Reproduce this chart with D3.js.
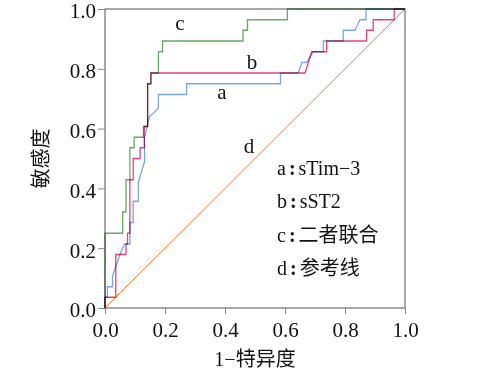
<!DOCTYPE html>
<html>
<head>
<meta charset="utf-8">
<script src="https://cdn.jsdelivr.net/npm/d3@7"></script>
<style>
  body { margin: 0; background: #fff; }
  .curve { fill: none; mix-blend-mode: multiply; }
</style>
</head>
<body>
<div id="chart"></div>
<script>
// ROC curve points: [1-specificity, sensitivity]
const curveA = [[0,0],[0,0.036],[0.008,0.036],[0.008,0.071],[0.025,0.071],[0.025,0.107],[0.04,0.15],[0.05,0.179],[0.065,0.214],[0.083,0.214],
  [0.083,0.286],[0.094,0.286],[0.094,0.357],[0.111,0.357],[0.111,0.42],[0.132,0.49],[0.132,0.571],[0.148,0.64],[0.165,0.655],[0.178,0.67],
  [0.178,0.714],[0.272,0.714],[0.272,0.75],[0.585,0.75],[0.585,0.786],[0.644,0.786],[0.656,0.821],[0.672,0.821],[0.694,0.857],[0.728,0.857],
  [0.728,0.893],[0.794,0.893],[0.794,0.929],[0.833,0.929],[0.85,0.964],[0.87,0.964],[0.87,1],[1,1]];
const curveB = [[0,0],[0,0.036],[0.036,0.036],[0.036,0.179],[0.07,0.179],[0.07,0.214],[0.075,0.214],[0.075,0.25],[0.083,0.25],[0.083,0.429],
  [0.094,0.429],[0.094,0.5],[0.117,0.5],[0.117,0.536],[0.131,0.536],[0.131,0.607],[0.142,0.607],[0.142,0.75],[0.153,0.75],[0.153,0.786],
  [0.667,0.786],[0.689,0.857],[0.739,0.857],[0.739,0.893],[0.872,0.893],[0.872,0.929],[0.894,0.929],[0.894,0.964],[0.964,0.964],[0.964,1],[1,1]];
const curveC = [[0,0],[0,0.25],[0.059,0.25],[0.059,0.321],[0.07,0.321],[0.07,0.429],[0.083,0.429],[0.083,0.536],[0.097,0.536],[0.097,0.571],
  [0.128,0.571],[0.128,0.607],[0.142,0.607],[0.142,0.75],[0.153,0.75],[0.153,0.786],[0.178,0.786],[0.178,0.857],[0.192,0.857],[0.192,0.893],
  [0.46,0.893],[0.46,0.929],[0.475,0.929],[0.475,0.964],[0.608,0.964],[0.608,1],[1,1]];
const curveD = [[0,0],[1,1]];

const ticks = [0, 0.2, 0.4, 0.6, 0.8, 1.0];
const curveNames = ['a', 'b', 'c', 'd'];
const legendNames = ['sTim−3', 'sST2', '二者联合', '参考线'];

const width = 479, height = 376;
const margin = {left: 105, top: 9, right: 74, bottom: 68};

const svg = d3.select('#chart')
  .append('svg')
  .attr('width', width)
  .attr('height', height);

const x = d3.scaleLinear().domain([0, 1]).range([margin.left, width - margin.right]);
const y = d3.scaleLinear().domain([0, 1]).range([height - margin.bottom, margin.top]);

const serif = '"Liberation Serif", "Times New Roman", serif';
const cjk = '"Liberation Serif", "Noto Sans CJK SC", serif';

// axes
const xAxis = svg.append('g')
  .attr('transform', `translate(0, ${y(0)})`)
  .call(d3.axisBottom(x).tickValues(ticks).tickFormat(d3.format('.1f')).tickSizeOuter(0).tickSize(6).tickPadding(6));
const yAxis = svg.append('g')
  .attr('transform', `translate(${x(0)}, 0)`)
  .call(d3.axisLeft(y).tickValues(ticks).tickFormat(d3.format('.1f')).tickSizeOuter(0).tickSize(7).tickPadding(2));

[xAxis, yAxis].forEach(ax => {
  ax.select('.domain').remove();
  ax.selectAll('line').attr('stroke', '#888');
  ax.selectAll('text')
    .attr('fill', '#111')
    .style('font-family', serif)
    .style('font-size', '21px');
});
xAxis.selectAll('text').attr('dy', '0.8em');
yAxis.selectAll('text').attr('dy', '0.42em');

// plot frame
svg.append('rect')
  .attr('x', x(0))
  .attr('y', y(1))
  .attr('width', x(1) - x(0))
  .attr('height', y(0) - y(1))
  .attr('fill', 'none')
  .attr('stroke', '#7a7a7a')
  .attr('stroke-width', 1.3);

const line = d3.line()
  .x(d => x(d[0]))
  .y(d => y(d[1]));

svg.append('path')
  .attr('d', line(curveD))
  .attr('stroke', '#f07a36')
  .attr('stroke-width', 1)
  .attr('fill', 'none');

const curves = [
  {data: curveA, color: '#7aa6e0'},
  {data: curveC, color: '#66a866'},
  {data: curveB, color: '#e8427a'},
];
curves.forEach(c => {
  svg.append('path')
    .attr('class', 'curve')
    .attr('d', line(c.data))
    .attr('stroke', c.color)
    .attr('stroke-width', 1.3);
});

// curve letters
const letterPos = [[0.39, 0.7], [0.49, 0.8], [0.25, 0.93], [0.48, 0.52]];
svg.selectAll('.letter')
  .data(curveNames)
  .enter()
  .append('text')
  .attr('class', 'letter')
  .attr('x', (d, i) => x(letterPos[i][0]))
  .attr('y', (d, i) => y(letterPos[i][1]))
  .attr('text-anchor', 'middle')
  .style('font-family', serif)
  .style('font-size', '21px')
  .attr('fill', '#111')
  .text(d => d);

// legend text
const legend = svg.selectAll('.legend')
  .data(curveNames)
  .enter()
  .append('text')
  .attr('class', 'legend')
  .attr('x', 277)
  .attr('y', (d, i) => 175 + i * 33.4)
  .style('font-family', cjk)
  .style('font-size', '20px')
  .attr('fill', '#111');
legend.append('tspan').text(d => d);
legend.append('tspan').attr('dx', 3).style('font-weight', 'bold').text(':');
legend.append('tspan').attr('dx', 3).text((d, i) => legendNames[i]);

// axis titles
svg.append('text')
  .attr('x', (x(0) + x(1)) / 2)
  .attr('y', 366)
  .attr('text-anchor', 'middle')
  .style('font-family', cjk)
  .style('font-size', '20px')
  .attr('fill', '#111')
  .text('1−特异度');

svg.append('text')
  .attr('transform', `translate(48, ${(y(0) + y(1)) / 2}) rotate(-90)`)
  .attr('text-anchor', 'middle')
  .style('font-family', cjk)
  .style('font-size', '20px')
  .attr('fill', '#111')
  .text('敏感度');
</script>
</body>
</html>
